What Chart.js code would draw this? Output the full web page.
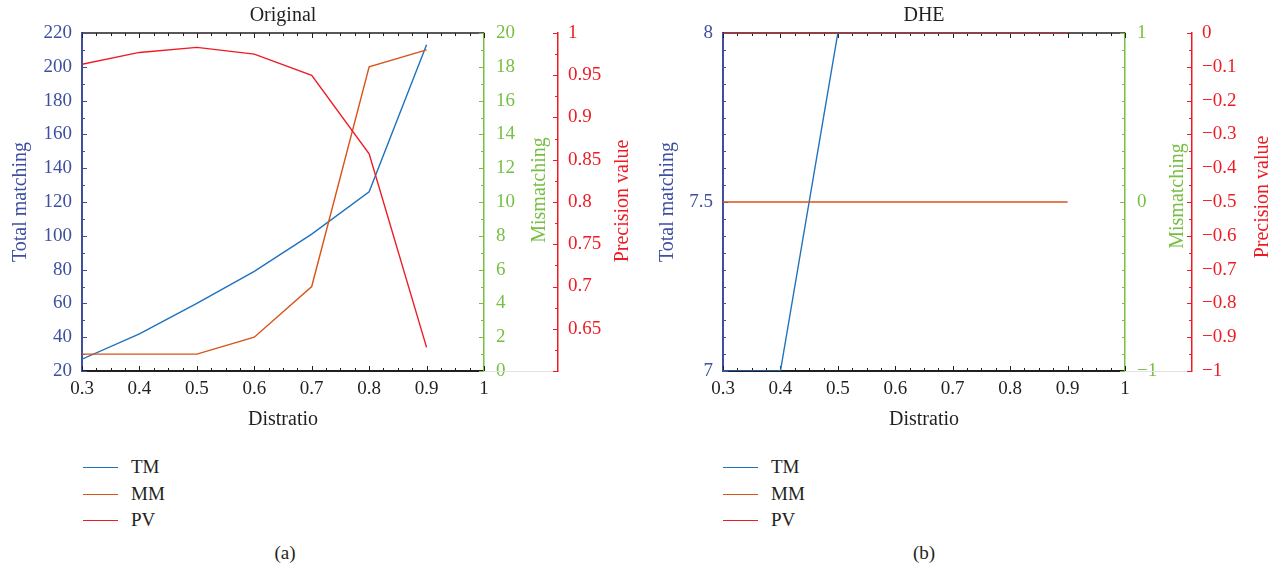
<!DOCTYPE html>
<html>
<head>
<meta charset="utf-8">
<script src="https://cdn.jsdelivr.net/npm/chart.js@4.4.1/dist/chart.umd.min.js"></script>
<style>
  body { margin: 0; background: #fff; font-family: "Liberation Serif", serif; color: #231f20; }
  #wrap { position: relative; width: 1282px; height: 573px; overflow: hidden; }
  canvas { position: absolute; top: 0; }
  .legend { position: absolute; top: 454px; font-size: 19px; }
  .legend div { position: relative; height: 26.5px; line-height: 26.5px; padding-left: 48px; }
  .legend .ln { position: absolute; left: 0; top: 13px; width: 35px; border-top: 1.5px solid; }
  .cap { position: absolute; top: 542px; width: 100px; font-size: 19px; text-align: center; }
</style>
</head>
<body>
<div id="wrap">
  <canvas id="chartA" width="641" height="440" style="left:0"></canvas>
  <canvas id="chartB" width="641" height="440" style="left:641px"></canvas>

  <div class="legend" style="left:83px">
    <div><span class="ln" style="border-color:#1f72bd"></span>TM</div>
    <div><span class="ln" style="border-color:#d95319"></span>MM</div>
    <div><span class="ln" style="border-color:#ed1c24"></span>PV</div>
  </div>
  <div class="legend" style="left:723px">
    <div><span class="ln" style="border-color:#1f72bd"></span>TM</div>
    <div><span class="ln" style="border-color:#d95319"></span>MM</div>
    <div><span class="ln" style="border-color:#ed1c24"></span>PV</div>
  </div>
  <div class="cap" style="left:235px">(a)</div>
  <div class="cap" style="left:874px">(b)</div>
</div>
<script>
// x values (Distratio)
const distratio = [0.3, 0.4, 0.5, 0.6, 0.7, 0.8, 0.9];

// (a) Original
const tmOriginal = [27, 42, 60, 79, 101, 126, 213];
const mmOriginal = [1, 1, 1, 2, 5, 18, 19];
const pvOriginal = [0.963, 0.977, 0.983, 0.975, 0.950, 0.857, 0.628];

// (b) DHE
const tmDHE = [7, 7, 8, 8, 8, 8, 8];
const mmDHE = [0, 0, 0, 0, 0, 0, 0];
const pvDHE = [0, 0, 0, 0, 0, 0, 0];

// axis ranges [min, max, step]
const xAxis = [0.3, 1, 0.1];
const tmAxisA = [20, 220, 20];
const mmAxisA = [0, 20, 2];
const pvAxisA = [0.6, 1, 0.05];
const tmAxisB = [7, 8, 0.5];
const mmAxisB = [-1, 1, 1];
const pvAxisB = [-1, 0, 0.1];

const BLUE = '#3e4fa0', GREEN = '#77be43', RED = '#ed1c24', BLACK = '#231f20';
const C_TM = '#1f72bd', C_MM = '#d95319', C_PV = '#ed1c24';
const FONT = '"Liberation Serif", "Times New Roman", serif';

function fmt(v) {
  const s = +v.toFixed(3);
  return s < 0 ? '\u2212' + Math.abs(s) : String(s);
}

// inward tick marks, top border and rotated axis titles
const axisDecor = {
  id: 'axisDecor',
  beforeDatasetsDraw(chart, args, opts) {
    const ctx = chart.ctx, a = chart.chartArea;
    ctx.save();
    ctx.strokeStyle = '#e3e3e3'; ctx.lineWidth = 1;
    ctx.beginPath();
    ctx.moveTo(a.right, a.bottom + 0.5); ctx.lineTo(chart.scales.y3.left, a.bottom + 0.5);
    ctx.stroke();
    ctx.strokeStyle = BLACK; ctx.lineWidth = 1.5;
    ctx.beginPath(); ctx.moveTo(a.left, a.top); ctx.lineTo(a.right, a.top); ctx.stroke();
    Object.values(chart.scales).forEach(s => {
      const n = opts.minors[s.id] || 1;
      const vals = s.ticks.map(t => t.value);
      const marks = [];
      for (let i = 0; i < vals.length; i++) {
        marks.push([vals[i], 5]);
        if (i < vals.length - 1)
          for (let k = 1; k < n; k++) marks.push([vals[i] + (vals[i + 1] - vals[i]) * k / n, 3]);
      }
      ctx.strokeStyle = s.axis === 'x' ? BLACK : s.options.border.color;
      ctx.lineWidth = 1;
      ctx.beginPath();
      marks.forEach(([v, len]) => {
        const p = Math.round(s.getPixelForValue(v)) + 0.5;
        if (s.axis === 'x') {
          ctx.moveTo(p, a.bottom); ctx.lineTo(p, a.bottom - len);
          ctx.moveTo(p, a.top); ctx.lineTo(p, a.top + len);
        } else if (s.position === 'left') {
          ctx.moveTo(s.right, p); ctx.lineTo(s.right + len, p);
        } else {
          ctx.moveTo(s.left, p); ctx.lineTo(s.left - len, p);
        }
      });
      ctx.stroke();
    });
    ctx.restore();
  },
  afterDraw(chart, args, opts) {
    const ctx = chart.ctx, a = chart.chartArea;
    const cx = (a.left + a.right) / 2;
    ctx.save();
    ctx.font = '20px ' + FONT;
    ctx.textAlign = 'center';
    ctx.fillStyle = BLACK;
    ctx.textBaseline = 'alphabetic';
    ctx.fillText(opts.title, cx, 21);
    ctx.fillText('Distratio', cx, 425);
    ctx.textBaseline = 'middle';
    opts.yTitles.forEach(t => {
      ctx.save();
      ctx.translate(t.x, t.y);
      ctx.rotate(-Math.PI / 2);
      ctx.fillStyle = t.color;
      ctx.fillText(t.text, 0, 0);
      ctx.restore();
    });
    ctx.restore();
  }
};

function yScale(range, pos, color, width, pad, cb, weight) {
  return {
    type: 'linear', position: pos, min: range[0], max: range[1], weight: weight || 0,
    ticks: { stepSize: range[2], color: color, padding: pad, font: { family: FONT, size: 19 }, callback: cb || fmt },
    grid: { drawOnChartArea: false, drawTicks: false },
    border: { color: color, width: pos === 'left' ? 2 : 1.5 },
    afterFit(s) { s.width = width; }
  };
}

function makeChart(id, tm, mm, pv, axes, widths, title, yTitles, minors) {
  new Chart(document.getElementById(id), {
    type: 'line',
    data: {
      datasets: [
        { label: 'TM', data: distratio.map((x, i) => ({ x: x, y: tm[i] })), yAxisID: 'y', borderColor: C_TM, order: 2 },
        { label: 'MM', data: distratio.map((x, i) => ({ x: x, y: mm[i] })), yAxisID: 'y2', borderColor: C_MM, order: 1 },
        { label: 'PV', data: distratio.map((x, i) => ({ x: x, y: pv[i] })), yAxisID: 'y3', borderColor: C_PV, order: 0 }
      ]
    },
    options: {
      responsive: false,
      animation: false,
      datasets: { line: { borderWidth: 1.4, pointRadius: 0, tension: 0, fill: false } },
      layout: { padding: { top: 33, left: 0, right: 0, bottom: 0 } },
      plugins: {
        legend: { display: false },
        tooltip: { enabled: false },
        axisDecor: { title: title, yTitles: yTitles, minors: minors }
      },
      scales: {
        x: {
          type: 'linear', min: xAxis[0], max: xAxis[1],
          ticks: { stepSize: xAxis[2], color: BLACK, padding: 7, font: { family: FONT, size: 19 }, callback: fmt, maxRotation: 0 },
          grid: { drawOnChartArea: false, drawTicks: false },
          border: { color: BLACK, width: 2 },
          afterFit(s) { s.height = 69; }
        },
        y: yScale(axes[0], 'left', BLUE, widths[0], 10),
        y2: yScale(axes[1], 'right', GREEN, widths[1], 12),
        y3: yScale(axes[2], 'right', RED, widths[2], 10, v => (Math.abs(v - axes[2][0]) < 1e-9 && axes[2][0] > 0) ? '' : fmt(v), 1)
      }
    },
    plugins: [axisDecor]
  });
}

makeChart('chartA', tmOriginal, mmOriginal, pvOriginal, [tmAxisA, mmAxisA, pvAxisA], [82, 74, 83], 'Original',
  [{ text: 'Total matching', x: 21, y: 202, color: BLUE },
   { text: 'Mismatching', x: 540, y: 190, color: GREEN },
   { text: 'Precision value', x: 623, y: 201, color: RED }],
  { x: 4, y: 2, y2: 2, y3: 2 });

makeChart('chartB', tmDHE, mmDHE, pvDHE, [tmAxisB, mmAxisB, pvAxisB], [82, 67, 90], 'DHE',
  [{ text: 'Total matching', x: 27, y: 202, color: BLUE },
   { text: 'Mismatching', x: 537, y: 196, color: GREEN },
   { text: 'Precision value', x: 622, y: 197, color: RED }],
  { x: 4, y: 10, y2: 10, y3: 2 });
</script>
</body>
</html>
